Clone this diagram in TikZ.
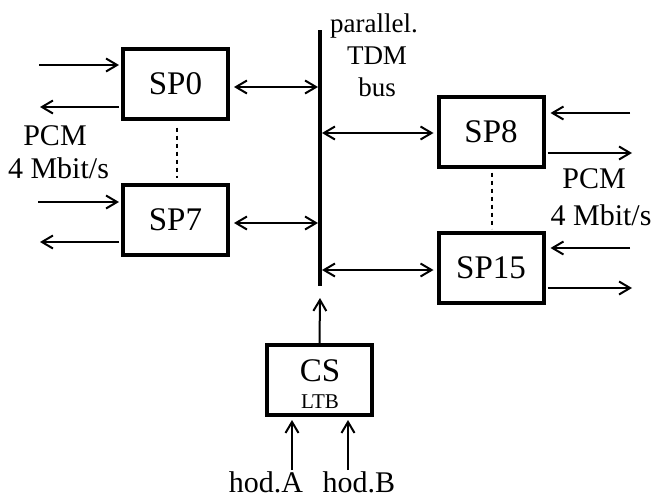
\documentclass[tikz,border=0pt]{standalone}
\usepackage{fontspec}
\setmainfont{Liberation Serif}
\usetikzlibrary{arrows.meta}
\begin{document}
\begin{tikzpicture}[x=1pt,y=-1pt,
  blk/.style={draw,line width=4pt,minimum width=105pt,minimum height=70pt,inner sep=0pt},
  sptext/.style={font=\fontsize{33}{36}\selectfont},
  lbl/.style={font=\fontsize{30}{32}\selectfont,anchor=base,inner sep=0pt},
  buslbl/.style={font=\fontsize{27}{30}\selectfont,anchor=base,inner sep=0pt},
  tip/.style={Straight Barb[length=11pt,width=13pt,line width=2pt]},
  arr/.style={line width=2pt,-{Straight Barb[length=11pt,width=13pt,line width=2pt]}},
  darr/.style={line width=2pt,{Straight Barb[length=11pt,width=13pt,line width=2pt]}-{Straight Barb[length=11pt,width=13pt,line width=2pt]}},
  dots/.style={line width=2pt,dash pattern=on 4pt off 4pt}]
\useasboundingbox (0,0) rectangle (653,498);
% boxes
\node[blk,sptext] (sp0) at (175.5,83.5) {SP0};
\node[blk,sptext] (sp7) at (175.5,220) {SP7};
\node[blk,sptext] (sp8) at (491,131.5) {SP8};
\node[blk,sptext] (sp15) at (491,267.5) {SP15};
\node[blk] (cs) at (319.5,380) {};
\node[font=\fontsize{33}{36}\selectfont,anchor=base,inner sep=0pt] (cst) at (320,381) {CS};
\node[font=\fontsize{21}{24}\selectfont,anchor=base,inner sep=0pt] (ltb) at (320,408) {LTB};
% bus
\coordinate (bt) at (320,30);
\coordinate (bb) at (320,286);
\draw[line width=4pt] (bt) -- (bb);
\node[buslbl] (l1) at (374,32) {parallel.};
\node[buslbl] (l2) at (377,64) {TDM};
\node[buslbl] (l3) at (377,96) {bus};
% bus connections
\coordinate (b0) at (318,87);
\coordinate (b7) at (318,223);
\coordinate (b8) at (322,133);
\coordinate (b15) at (322,270);
\draw[darr,shorten <=4pt] (sp0.east |- b0) -- (b0);
\draw[darr,shorten <=4pt] (sp7.east |- b7) -- (b7);
\draw[darr,shorten >=3pt] (b8) -- (sp8.west |- b8);
\draw[darr,shorten >=3pt] (b15) -- (sp15.west |- b15);
% left PCM
\coordinate (i0) at (39,65);
\coordinate (o0) at (40,107);
\coordinate (i7) at (38,202);
\coordinate (o7) at (40,242);
\draw[arr,shorten >=2pt] (i0) -- (i0 -| sp0.west);
\draw[arr,shorten <=2pt] (o0 -| sp0.west) -- (o0);
\draw[arr,shorten >=2pt] (i7) -- (i7 -| sp7.west);
\draw[arr,shorten <=2pt] (o7 -| sp7.west) -- (o7);
% right PCM
\coordinate (i8) at (630,113);
\coordinate (o8) at (632,153);
\coordinate (i15) at (630,248);
\coordinate (o15) at (632,288);
\draw[arr,shorten >=5pt] (i8) -- (i8 -| sp8.east);
\draw[arr,shorten <=2pt] (o8 -| sp8.east) -- (o8);
\draw[arr,shorten >=5pt] (i15) -- (i15 -| sp15.east);
\draw[arr,shorten <=2pt] (o15 -| sp15.east) -- (o15);
% dotted
\path (sp0.south) ++(1.5,7) coordinate (d0a) (sp7.north) ++(1.5,-5) coordinate (d0b);
\draw[dots] (d0a) -- (d0b);
\path (sp8.south) ++(1,4) coordinate (d8a) (sp15.north) ++(1,-2) coordinate (d8b);
\draw[dots] (d8a) -- (d8b);
% labels
\node[lbl] (pl1) at (55,145) {PCM};
\node[lbl] (pl2) at (58.5,178) {4 Mbit/s};
\node[lbl] (pr1) at (594,188) {PCM};
\node[lbl] (pr2) at (601,225) {4 Mbit/s};
% CS
\coordinate (cst0) at (320,298);
\draw[arr] (cs.north) -- (cst0);
\coordinate (ha) at (292,470);
\coordinate (hb) at (348,470);
\draw[arr,shorten >=3pt] (ha) -- (ha |- cs.south);
\draw[arr,shorten >=3pt] (hb) -- (hb |- cs.south);
\node[lbl] (hA) at (266,492) {hod.A};
\node[lbl] (hB) at (359,492) {hod.B};
\end{tikzpicture}
\end{document}
